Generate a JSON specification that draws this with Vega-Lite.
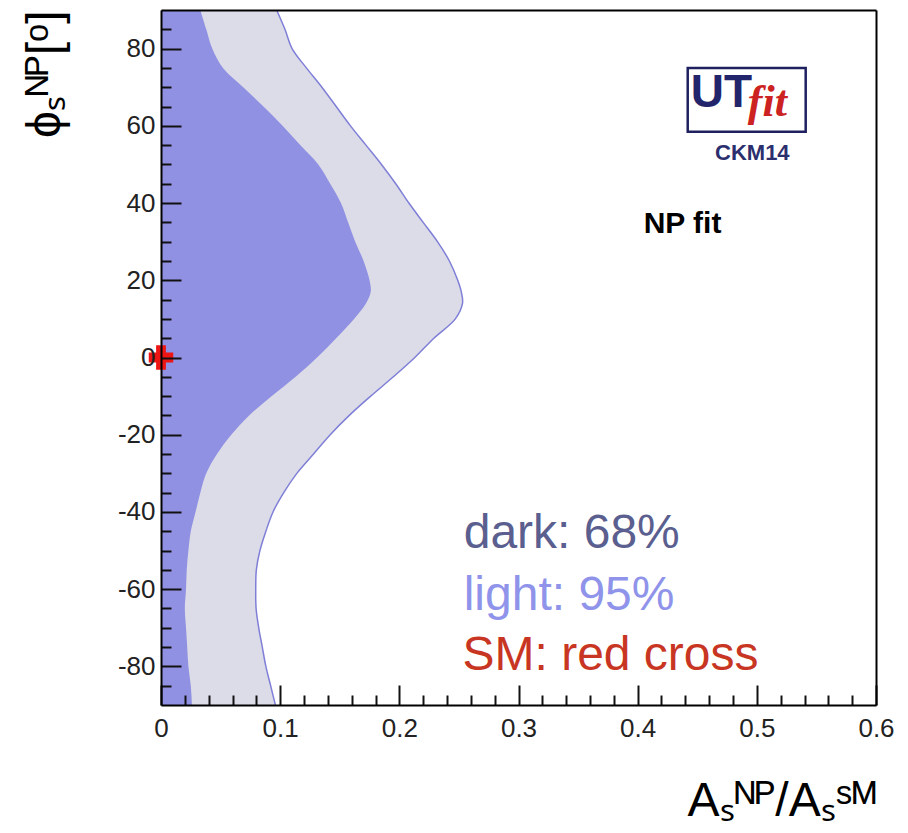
{
  "$schema": "https://vega.github.io/schema/vega-lite/v6.json",
  "width": 715,
  "height": 695,
  "autosize": {"type": "none"},
  "padding": {"left": 161, "top": 10, "right": 32, "bottom": 128},
  "background": "white",
  "config": {
    "view": {"stroke": null},
    "font": "Liberation Sans",
    "axis": {
      "grid": false, "zindex": 1, "domainColor": "black", "domainWidth": 2,
      "tickColor": "#111111", "tickWidth": 2, "labelFont": "Liberation Sans",
      "labelFontSize": 26, "labelColor": "#222222", "titleFont": "Liberation Sans",
      "titleFontWeight": "normal", "titleColor": "black", "labelFlush": false,
      "labelOverlap": false, "labelBound": false
    }
  },
  "datasets": {
    "contour": [
      {"phi": 90, "dark": 0.033, "light": 0.097},
      {"phi": 85, "dark": 0.038, "light": 0.104},
      {"phi": 80, "dark": 0.043, "light": 0.110},
      {"phi": 75, "dark": 0.052, "light": 0.122},
      {"phi": 70, "dark": 0.069, "light": 0.135},
      {"phi": 65, "dark": 0.086, "light": 0.147},
      {"phi": 60, "dark": 0.102, "light": 0.159},
      {"phi": 55, "dark": 0.117, "light": 0.172},
      {"phi": 50, "dark": 0.132, "light": 0.185},
      {"phi": 45, "dark": 0.142, "light": 0.197},
      {"phi": 40, "dark": 0.151, "light": 0.208},
      {"phi": 35, "dark": 0.157, "light": 0.220},
      {"phi": 30, "dark": 0.163, "light": 0.232},
      {"phi": 25, "dark": 0.170, "light": 0.242},
      {"phi": 20, "dark": 0.175, "light": 0.249},
      {"phi": 17, "dark": 0.176, "light": 0.252},
      {"phi": 14, "dark": 0.172, "light": 0.253},
      {"phi": 10, "dark": 0.162, "light": 0.247},
      {"phi": 5, "dark": 0.147, "light": 0.229},
      {"phi": 0, "dark": 0.131, "light": 0.213},
      {"phi": -5, "dark": 0.113, "light": 0.195},
      {"phi": -10, "dark": 0.093, "light": 0.176},
      {"phi": -15, "dark": 0.074, "light": 0.158},
      {"phi": -20, "dark": 0.059, "light": 0.142},
      {"phi": -25, "dark": 0.047, "light": 0.128},
      {"phi": -30, "dark": 0.038, "light": 0.114},
      {"phi": -35, "dark": 0.033, "light": 0.103},
      {"phi": -40, "dark": 0.029, "light": 0.094},
      {"phi": -45, "dark": 0.025, "light": 0.088},
      {"phi": -50, "dark": 0.023, "light": 0.083},
      {"phi": -55, "dark": 0.0216, "light": 0.080},
      {"phi": -60, "dark": 0.021, "light": 0.0795},
      {"phi": -65, "dark": 0.020, "light": 0.0798},
      {"phi": -70, "dark": 0.021, "light": 0.082},
      {"phi": -75, "dark": 0.022, "light": 0.085},
      {"phi": -80, "dark": 0.023, "light": 0.088},
      {"phi": -85, "dark": 0.025, "light": 0.092},
      {"phi": -90, "dark": 0.026, "light": 0.096}
    ]
  },
  "resolve": {"axis": {"x": "independent", "y": "independent"}},
  "layer": [
    {
      "data": {"name": "contour"},
      "mark": {"type": "area", "orient": "horizontal", "color": "#dcdce8", "clip": true, "interpolate": "catmull-rom"},
      "encoding": {
        "x": {"field": "light", "type": "quantitative", "stack": null,
          "scale": {"domain": [0, 0.6], "nice": false},
          "axis": {"orient": "bottom", "zindex": 2, "values": [0.02,0.04,0.06,0.08,0.12,0.14,0.16,0.18,0.22,0.24,0.26,0.28,0.32,0.34,0.36,0.38,0.42,0.44,0.46,0.48,0.52,0.54,0.56,0.58],
            "tickSize": -10, "labels": false, "domain": false, "title": null}},
        "y": {"field": "phi", "type": "quantitative",
          "scale": {"domain": [-90, 90], "nice": false},
          "axis": {"orient": "left", "zindex": 2, "values": [-85,-75,-70,-65,-55,-50,-45,-35,-30,-25,-15,-10,-5,5,10,15,25,30,35,45,50,55,65,70,75,85],
            "tickSize": -10, "labels": false, "domain": false, "title": null}}
      }
    },
    {
      "data": {"name": "contour"},
      "mark": {"type": "area", "orient": "horizontal", "color": "#9191e3", "clip": true, "interpolate": "catmull-rom"},
      "encoding": {
        "x": {"field": "dark", "type": "quantitative", "stack": null,
          "scale": {"domain": [0, 0.6], "nice": false},
          "axis": {"orient": "bottom", "zindex": 2, "values": [0, 0.1, 0.2, 0.3, 0.4, 0.5, 0.6], "format": "~g",
            "tickSize": -20, "labelPadding": 30, "labelBaseline": "top",
            "title": "Aₛᴺᴾ/Aₛˢᴹ", "titleFontSize": 48, "titleX": 715, "titleY": 110,
            "titleAlign": "right", "titleAnchor": "end", "titleBaseline": "alphabetic", "titleAngle": 0}},
        "y": {"field": "phi", "type": "quantitative",
          "scale": {"domain": [-90, 90], "nice": false},
          "axis": {"orient": "left", "zindex": 2, "values": [-80, -60, -40, -20, 0, 20, 40, 60, 80],
            "tickSize": -20, "labelPadding": 26,
            "labelExpr": "datum.value < 0 ? '-' + abs(datum.value) : '' + datum.value",
            "title": "ϕₛᴺᴾ[ᵒ]", "titleFontSize": 48, "titleX": -116, "titleY": 0,
            "titleAngle": -90, "titleAlign": "right", "titleAnchor": "end", "titleBaseline": "middle"}}
      }
    },
    {
      "data": {"name": "contour"},
      "mark": {"type": "line", "color": "#7f7fd8", "strokeWidth": 1.5, "clip": true, "interpolate": "catmull-rom"},
      "encoding": {
        "x": {"field": "light", "type": "quantitative",
          "scale": {"domain": [0, 0.6], "nice": false},
          "axis": {"orient": "top", "zindex": 2, "ticks": false, "labels": false, "domain": true, "title": null}},
        "y": {"field": "phi", "type": "quantitative",
          "scale": {"domain": [-90, 90], "nice": false},
          "axis": {"orient": "right", "zindex": 2, "ticks": false, "labels": false, "domain": true, "title": null}},
        "order": {"field": "phi", "type": "quantitative"}
      }
    },
    {
      "data": {"values": [{"a": 0, "phi": 0}]},
      "mark": {"type": "point", "shape": "cross", "filled": true, "size": 600, "color": "#ee1515", "opacity": 1, "clip": false},
      "encoding": {
        "x": {"field": "a", "type": "quantitative", "axis": null, "scale": {"domain": [0, 0.6], "nice": false}},
        "y": {"field": "phi", "type": "quantitative", "axis": null, "scale": {"domain": [-90, 90], "nice": false}}
      }
    },
    {
      "data": {"values": [{"x1": 0.442, "x2": 0.541, "y1": 75.0, "y2": 58.5}]},
      "mark": {"type": "rect", "fill": "white", "stroke": "#1f2060", "strokeWidth": 2.5},
      "encoding": {
        "x": {"field": "x1", "type": "quantitative", "axis": null, "scale": {"domain": [0, 0.6], "nice": false}},
        "x2": {"field": "x2"},
        "y": {"field": "y1", "type": "quantitative", "axis": null, "scale": {"domain": [-90, 90], "nice": false}},
        "y2": {"field": "y2"}
      }
    },
    {
      "data": {"values": [{"x": 0.4445, "y": 64.9, "label": "UT"}]},
      "mark": {"type": "text", "align": "left", "baseline": "alphabetic", "font": "Liberation Sans", "fontWeight": "bold", "fontSize": 46, "color": "#22256b"},
      "encoding": {
        "x": {"field": "x", "type": "quantitative", "axis": null, "scale": {"domain": [0, 0.6], "nice": false}},
        "y": {"field": "y", "type": "quantitative", "axis": null, "scale": {"domain": [-90, 90], "nice": false}},
        "text": {"field": "label"}
      }
    },
    {
      "data": {"values": [{"x": 0.4924, "y": 62.5, "label": "fit"}]},
      "mark": {"type": "text", "align": "left", "baseline": "alphabetic", "font": "Liberation Serif", "fontWeight": "bold", "fontStyle": "italic", "fontSize": 44, "color": "#cc2222"},
      "encoding": {
        "x": {"field": "x", "type": "quantitative", "axis": null, "scale": {"domain": [0, 0.6], "nice": false}},
        "y": {"field": "y", "type": "quantitative", "axis": null, "scale": {"domain": [-90, 90], "nice": false}},
        "text": {"field": "label"}
      }
    },
    {
      "data": {"values": [{"x": 0.4962, "y": 51.2, "label": "CKM14"}]},
      "mark": {"type": "text", "align": "center", "baseline": "alphabetic", "font": "Liberation Sans", "fontWeight": "bold", "fontSize": 22, "color": "#2b2f6e"},
      "encoding": {
        "x": {"field": "x", "type": "quantitative", "axis": null, "scale": {"domain": [0, 0.6], "nice": false}},
        "y": {"field": "y", "type": "quantitative", "axis": null, "scale": {"domain": [-90, 90], "nice": false}},
        "text": {"field": "label"}
      }
    },
    {
      "data": {"values": [{"x": 0.405, "y": 32.2, "label": "NP fit"}]},
      "mark": {"type": "text", "align": "left", "baseline": "alphabetic", "font": "Liberation Sans", "fontWeight": "bold", "fontSize": 30, "color": "black"},
      "encoding": {
        "x": {"field": "x", "type": "quantitative", "axis": null, "scale": {"domain": [0, 0.6], "nice": false}},
        "y": {"field": "y", "type": "quantitative", "axis": null, "scale": {"domain": [-90, 90], "nice": false}},
        "text": {"field": "label"}
      }
    },
    {
      "data": {"values": [{"x": 0.254, "y": -49.3, "label": "dark: 68%"}]},
      "mark": {"type": "text", "align": "left", "baseline": "alphabetic", "font": "Liberation Sans", "fontSize": 48, "color": "#5b5f8f"},
      "encoding": {
        "x": {"field": "x", "type": "quantitative", "axis": null, "scale": {"domain": [0, 0.6], "nice": false}},
        "y": {"field": "y", "type": "quantitative", "axis": null, "scale": {"domain": [-90, 90], "nice": false}},
        "text": {"field": "label"}
      }
    },
    {
      "data": {"values": [{"x": 0.254, "y": -65.4, "label": "light: 95%"}]},
      "mark": {"type": "text", "align": "left", "baseline": "alphabetic", "font": "Liberation Sans", "fontSize": 48, "color": "#8f93ea"},
      "encoding": {
        "x": {"field": "x", "type": "quantitative", "axis": null, "scale": {"domain": [0, 0.6], "nice": false}},
        "y": {"field": "y", "type": "quantitative", "axis": null, "scale": {"domain": [-90, 90], "nice": false}},
        "text": {"field": "label"}
      }
    },
    {
      "data": {"values": [{"x": 0.253, "y": -80.9, "label": "SM: red cross"}]},
      "mark": {"type": "text", "align": "left", "baseline": "alphabetic", "font": "Liberation Sans", "fontSize": 48, "color": "#c83623"},
      "encoding": {
        "x": {"field": "x", "type": "quantitative", "axis": null, "scale": {"domain": [0, 0.6], "nice": false}},
        "y": {"field": "y", "type": "quantitative", "axis": null, "scale": {"domain": [-90, 90], "nice": false}},
        "text": {"field": "label"}
      }
    }
  ]
}
